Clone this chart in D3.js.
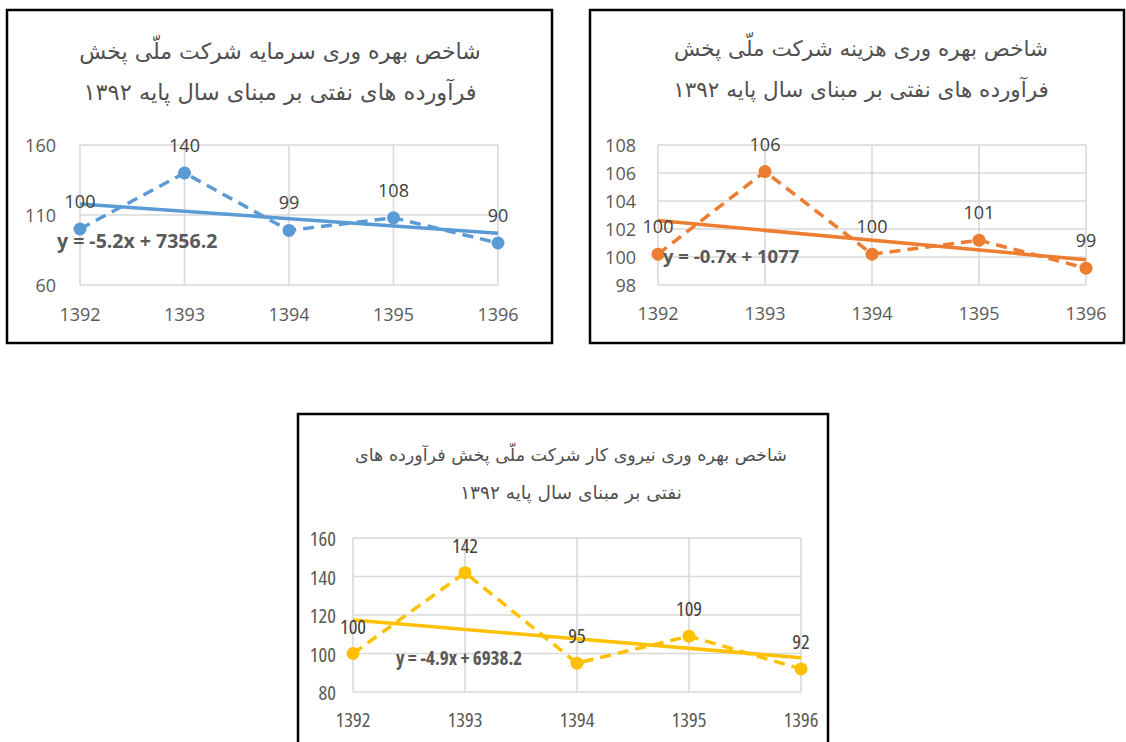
<!DOCTYPE html>
<html>
<head>
<meta charset="utf-8">
<script src="https://cdn.jsdelivr.net/npm/d3@7"></script>
<style>
  body { margin: 0; background: #fff; }
  svg { display: block; }
  .title { font-family: "DejaVu Sans", sans-serif; fill: #505050; }
  .tick-label { font-family: "Open Sans", Lato, sans-serif; fill: #595959; }
  .data-label { font-family: "Open Sans", Lato, sans-serif; fill: #404040; }
  .eq { font-family: "Open Sans", Lato, sans-serif; font-weight: bold; fill: #595959; }
  .narrow text { font-stretch: condensed; }
</style>
</head>
<body>
<div id="chart"></div>
<script>
// data
var years = [1392, 1393, 1394, 1395, 1396];

var capitalValues = [100, 140, 99, 108, 90];
var capitalTicks = [60, 110, 160];
var capitalTrend = [-5.2, 7356.2];
var capitalTitle = ["شاخص بهره وری سرمایه شرکت ملّی پخش", "فرآورده های نفتی بر مبنای سال پایه ۱۳۹۲"];

var costValues = [100.2, 106.1, 100.2, 101.2, 99.2];
var costTicks = [98, 100, 102, 104, 106, 108];
var costTrend = [-0.7, 1077];
var costTitle = ["شاخص بهره وری هزینه شرکت ملّی پخش", "فرآورده های نفتی بر مبنای سال پایه ۱۳۹۲"];

var laborValues = [100, 142, 95, 109, 92];
var laborTicks = [80, 100, 120, 140, 160];
var laborTrend = [-4.9, 6938.2];
var laborTitle = ["شاخص بهره وری نیروی کار شرکت ملّی پخش فرآورده های", "نفتی بر مبنای سال پایه ۱۳۹۲"];

var W = 1126, H = 742;
var svg = d3.select("#chart").append("svg").attr("width", W).attr("height", H);

function drawPanel(p) {
    var g = svg.append("g");

    g.append("rect")
        .attr("x", p.box[0]).attr("y", p.box[1])
        .attr("width", p.box[2]).attr("height", p.box[3])
        .attr("fill", "#fff").attr("stroke", "#000").attr("stroke-width", 2.5);

    p.title.forEach(function(t, i) {
        g.append("text").attr("class", "title")
            .attr("x", p.titleX).attr("y", p.titleY[i])
            .attr("text-anchor", "middle").attr("dominant-baseline", "central")
            .attr("direction", "rtl")
            .style("font-size", p.titleSize[i] + "px")
            .text(t);
    });

    var x = d3.scaleLinear().domain([years[0], years[years.length - 1]]).range([p.plot.left, p.plot.right]);
    var y = d3.scaleLinear().domain(d3.extent(p.ticks)).range([p.plot.bottom, p.plot.top]);

    var txt = g.append("g").attr("class", p.narrow ? "narrow" : null);

    // gridlines
    g.selectAll(".hgrid").data(p.ticks).enter().append("line")
        .attr("x1", p.plot.left).attr("x2", p.plot.right)
        .attr("y1", d => y(d)).attr("y2", d => y(d))
        .attr("stroke", "#d9d9d9").attr("stroke-width", 1.6);
    g.selectAll(".vgrid").data(years).enter().append("line")
        .attr("x1", d => x(d)).attr("x2", d => x(d))
        .attr("y1", p.plot.top).attr("y2", p.plot.bottom)
        .attr("stroke", "#d9d9d9").attr("stroke-width", 1.6);

    txt.selectAll(".ylab").data(p.ticks).enter().append("text").attr("class", "tick-label")
        .attr("x", p.yLabelX).attr("y", d => y(d))
        .attr("text-anchor", "end").attr("dominant-baseline", "central")
        .style("font-size", p.fontSize + "px")
        .text(d => d);
    txt.selectAll(".xlab").data(years).enter().append("text").attr("class", "tick-label")
        .attr("x", d => x(d)).attr("y", p.xLabelY)
        .attr("text-anchor", "middle").attr("dominant-baseline", "central")
        .style("font-size", p.fontSize + "px")
        .text(d => d);

    // trend line
    var trendFn = d => p.trend[0] * d + p.trend[1];
    g.append("line")
        .attr("x1", x(years[0])).attr("y1", y(trendFn(years[0])))
        .attr("x2", x(years[years.length - 1])).attr("y2", y(trendFn(years[years.length - 1])))
        .attr("stroke", p.color).attr("stroke-width", 3.5);

    // dashed series
    var line = d3.line().x((d, i) => x(years[i])).y(d => y(d));
    g.append("path").datum(p.values)
        .attr("d", line).attr("fill", "none")
        .attr("stroke", p.color).attr("stroke-width", 3.5)
        .attr("stroke-dasharray", "11,7");

    g.selectAll(".pt").data(p.values).enter().append("circle")
        .attr("cx", (d, i) => x(years[i])).attr("cy", d => y(d))
        .attr("r", 6.5).attr("fill", p.color);

    var labs = g.append("g").attr("class", p.narrow ? "narrow" : null);
    labs.selectAll(".dlab").data(p.values).enter().append("text").attr("class", "data-label")
        .attr("x", (d, i) => x(years[i])).attr("y", d => y(d) - 28)
        .attr("text-anchor", "middle").attr("dominant-baseline", "central")
        .style("font-size", p.fontSize + "px")
        .text(d => d3.format(".0f")(d));

    var sign = p.trend[1] < 0 ? " - " : " + ";
    labs.append("text").attr("class", "eq")
        .attr("x", p.eqPos[0]).attr("y", p.eqPos[1])
        .attr("dominant-baseline", "central")
        .style("font-size", p.eqSize + "px")
        .text("y = " + p.trend[0] + "x" + sign + Math.abs(p.trend[1]));
}

drawPanel({
    box: [7, 10, 545, 333], title: capitalTitle, titleX: 280, titleY: [51, 92], titleSize: [22, 22.5],
    plot: {left: 80, right: 498, top: 145, bottom: 285}, ticks: capitalTicks,
    values: capitalValues, trend: capitalTrend, color: "#5b9bd5",
    yLabelX: 56, xLabelY: 314, fontSize: 18, eqSize: 19.5, eqPos: [57, 240]
});

drawPanel({
    box: [590, 10, 534, 333], title: costTitle, titleX: 861, titleY: [48, 89], titleSize: [21.5, 21.5],
    plot: {left: 658, right: 1086, top: 145, bottom: 285}, ticks: costTicks,
    values: costValues, trend: costTrend, color: "#ed7d31",
    yLabelX: 636, xLabelY: 313, fontSize: 18, eqSize: 18.5, eqPos: [663, 255]
});

drawPanel({
    box: [298, 414, 530, 340], title: laborTitle, titleX: 571, titleY: [455, 492], titleSize: [17.5, 18.5],
    plot: {left: 353, right: 801, top: 538, bottom: 692}, ticks: laborTicks,
    values: laborValues, trend: laborTrend, color: "#ffc000", narrow: true,
    yLabelX: 336, xLabelY: 719, fontSize: 20.5, eqSize: 19, eqPos: [396, 658]
});
</script>
</body>
</html>
